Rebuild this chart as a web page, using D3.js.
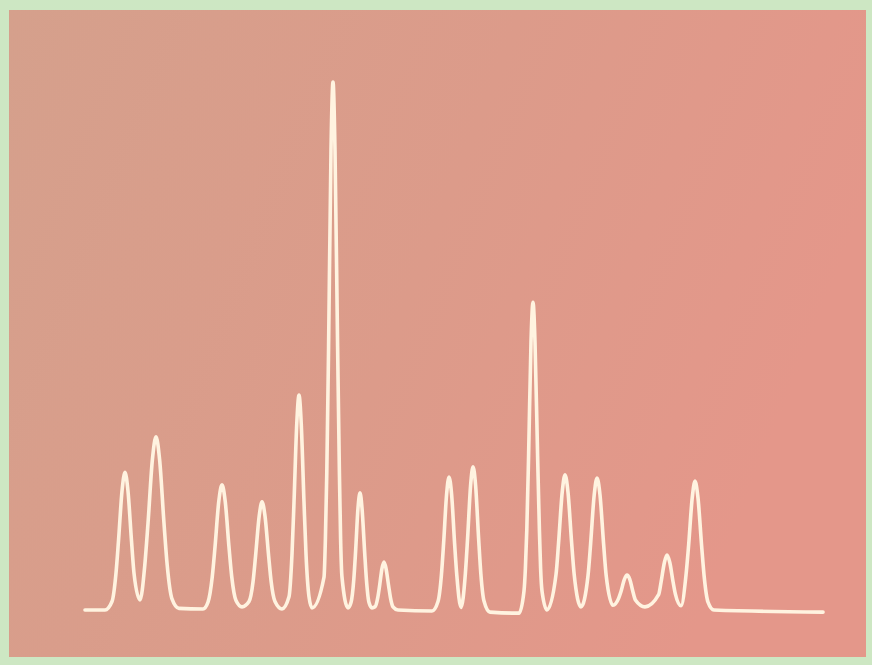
<!DOCTYPE html>
<html>
<head>
<meta charset="utf-8">
<script src="https://cdnjs.cloudflare.com/ajax/libs/d3/7.8.5/d3.min.js"></script>
<style>
  body { margin: 0; background: #cde7c3; }
  svg { display: block; }
</style>
</head>
<body>
<script>
// trace: time (arbitrary units) and signal (% of the largest peak)
// one line per peak so the two lists stay in step
var traceTime = [0.00, 1.00, 1.35,
    1.545, 1.675, 1.855, 2.000, 2.145, 2.325, 2.455, 2.750,
    2.990, 3.150, 3.370, 3.550, 3.730, 3.950, 4.110, 4.350, 4.700, 5.900,
    6.150, 6.360, 6.500, 6.690, 6.850, 7.010, 7.200, 7.340, 7.550, 7.850,
    8.200, 8.400, 8.530, 8.710, 8.850, 9.000, 9.180, 9.310, 9.500, 9.850,
    10.200, 10.350, 10.450, 10.590, 10.700, 10.810, 10.950, 11.050, 11.200, 11.350,
    11.950, 12.020, 12.090, 12.180, 12.300, 12.400, 12.500, 12.630, 12.720, 12.780, 12.850, 13.150,
    13.300, 13.440, 13.530, 13.650, 13.750, 13.850, 13.980, 14.070, 14.200, 14.350,
    14.500, 14.640, 14.730, 14.850, 14.950, 15.050, 15.180, 15.270, 15.400, 15.650, 17.350,
    17.650, 17.820, 17.930, 18.080, 18.200, 18.330, 18.480, 18.590, 18.800,
    19.020, 19.130, 19.280, 19.400, 19.530, 19.680, 19.790, 19.950, 20.250, 21.700,
    21.950, 22.020, 22.090, 22.180, 22.300, 22.400, 22.500, 22.630, 22.720, 22.780, 22.850, 23.100,
    23.550, 23.680, 23.860, 24.000, 24.150, 24.330, 24.460, 24.800,
    25.150, 25.280, 25.460, 25.600, 25.750, 25.930, 26.060, 26.400,
    26.680, 26.800, 26.970, 27.100, 27.240, 27.400, 27.520, 28.000,
    28.680, 28.800, 28.970, 29.100, 29.240, 29.400, 29.520, 29.800,
    30.050, 30.180, 30.360, 30.500, 30.650, 30.830, 30.960, 31.150, 31.450, 36.900];
var traceSignal = [0, 0, 1.6,
    6.8, 13.1, 22.7, 26.1, 22.7, 13.1, 6.8, 1.9,
    8.5, 16.4, 28.5, 32.8, 28.5, 16.4, 8.5, 2.1, 0.3, 0.2,
    1.5, 6.2, 11.9, 20.6, 23.7, 20.6, 11.9, 6.2, 1.8, 0.6,
    1.6, 5.3, 10.3, 17.8, 20.5, 17.8, 10.3, 5.3, 1.6, 0.2,
    2.5, 10.6, 20.4, 35.4, 40.7, 35.4, 20.4, 10.6, 2.5, 0.4,
    6.2, 13.5, 26, 50, 87, 100, 87, 50, 26, 13.5, 6.2, 0.4,
    1.4, 5.8, 11.1, 19.3, 22.2, 19.3, 11.1, 5.8, 1.4, 0.4,
    0.6, 2.4, 4.6, 7.9, 9.1, 7.9, 4.6, 2.4, 0.6, 0, -0.2,
    1.6, 6.6, 12.6, 21.9, 25.2, 21.9, 12.6, 6.6, 0.5,
    7.0, 13.6, 23.6, 27.1, 23.6, 13.6, 7.0, 1.7, -0.4, -0.6,
    3.6, 7.9, 15.2, 29.2, 50.7, 58.3, 50.7, 29.2, 15.2, 7.9, 3.6, 0,
    6.7, 12.8, 22.3, 25.6, 22.3, 12.8, 6.7, 0.6,
    6.5, 12.5, 21.8, 25.0, 21.8, 12.5, 6.5, 0.9,
    2.2, 3.5, 5.8, 6.6, 5.8, 3.4, 1.9, 0.6,
    2.9, 5.2, 9.0, 10.4, 9.0, 5.4, 3.0, 0.8,
    6.6, 12.2, 21.2, 24.4, 21.2, 12.2, 6.3, 1.5, 0, -0.4];

var data = traceTime.map(function (t, i) {
    return {time: t, signal: traceSignal[i]};
});

var width = 872, height = 665;

var svg = d3.select("body").append("svg")
        .attr("width", width)
        .attr("height", height);

var defs = svg.append("defs");
var grad = defs.append("linearGradient")
        .attr("id", "paper")
        .attr("x1", "0%").attr("y1", "0%")
        .attr("x2", "100%").attr("y2", "30%");
grad.append("stop").attr("offset", "0%").attr("stop-color", "#d5a08c");
grad.append("stop").attr("offset", "55%").attr("stop-color", "#dc9b8a");
grad.append("stop").attr("offset", "100%").attr("stop-color", "#e4978a");

defs.append("filter").attr("id", "soft")
        .append("feGaussianBlur").attr("stdDeviation", 0.7);

// green surround and the salmon screen
svg.append("rect")
        .attr("width", width).attr("height", height)
        .style("fill", "#cde7c3");
svg.append("rect")
        .attr("x", 9).attr("y", 10)
        .attr("width", 857).attr("height", 647)
        .style("fill", "url(#paper)")
        .attr("filter", "url(#soft)");

// scales
var x = d3.scaleLinear()
        .domain([0, 36.9])
        .range([85, 823]);
var y = d3.scaleLinear()
        .domain([0, 100])
        .range([610, 82]);

var line = d3.line()
        .x(function (d) { return x(d.time); })
        .y(function (d) { return y(d.signal); })
        .curve(d3.curveMonotoneX);

svg.append("path")
        .datum(data)
        .attr("d", line)
        .attr("filter", "url(#soft)")
        .style("fill", "none")
        .style("stroke", "#fff3e0")
        .style("stroke-width", 3.6)
        .style("stroke-linejoin", "round")
        .style("stroke-linecap", "round");
</script>
</body>
</html>
